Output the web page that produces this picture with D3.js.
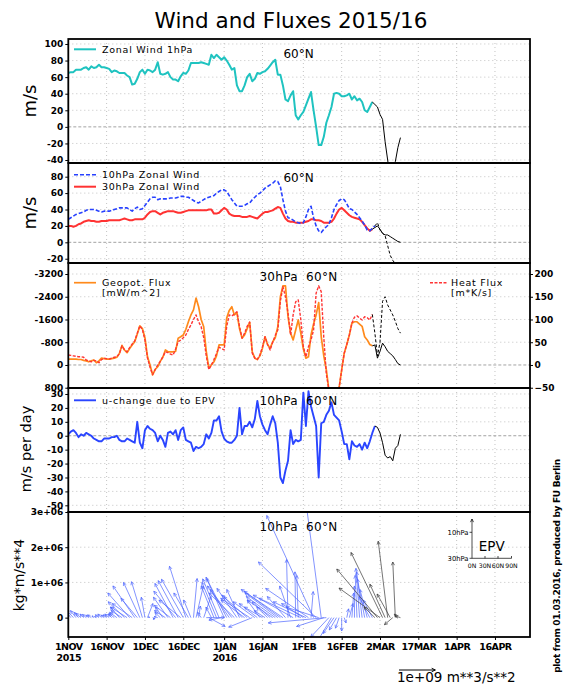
<!DOCTYPE html>
<html>
<head>
<meta charset="utf-8">
<script src="https://cdn.jsdelivr.net/npm/d3@7"></script>
<style>
  html, body { margin: 0; padding: 0; background: #fff; }
  svg { display: block; }
</style>
</head>
<body>
<div id="chart"></div>
<script>
// All daily series start on 1 Nov 2015 (index 0 = 1NOV). Forecast arrays start at their own day.
const seriesStart = '2015-11-01';

const xTickDates  = ['2015-11-01','2015-11-16','2015-12-01','2015-12-16','2016-01-01','2016-01-16',
                     '2016-02-01','2016-02-16','2016-03-02','2016-03-17','2016-04-01','2016-04-16'];
const xTickLabels = ['1NOV','16NOV','1DEC','16DEC','1JAN','16JAN','1FEB','16FEB','2MAR','17MAR','1APR','16APR'];
const xTickYears  = ['2015','','','','2016','','','','','','',''];

const ticksWind1  = [-40, -20, 0, 20, 40, 60, 80, 100];
const ticksWind2  = [-20, 0, 20, 40, 60, 80];
const ticksGeopot = [800, 0, -800, -1600, -2400, -3200];
const ticksHeat   = [-50, 0, 50, 100, 150, 200];
const ticksDu     = [-50, -40, -30, -20, -10, 0, 10, 20, 30];
const ticksEpfz   = [0, 1e6, 2e6, 3e6];
const ticksEpfzLabels = ['0', '1e+06', '2e+06', '3e+06'];

// Zonal wind 1hPa, 60N (m/s)
const wind1hPa = [
  65,66,66,69,69,69,71,72,69,73,  71,72,75,72,72,71,70,66,68,67,
  65,65,65,62,60,51,52,58,66,69,  64,69,68,66,69,78,64,63,64,66,
  60,57,57,55,61,65,64,68,77,77,  77,77,78,77,76,75,87,83,87,84,
  81,84,80,75,69,71,50,43,43,50,  60,64,55,58,65,64,66,67,70,74,
  78,81,63,63,50,33,31,38,43,14,   9,14,18,26,34,42,20,0,-22,-22,
  -12,5,14,24,40,41,40,37,37,38,  40,33,37,32,34,30,20,18,24,30
];
const wind1hPaFcStart = 119;
const wind1hPaFc = [30,27,24,15,9,-18,-40,-62,-62,-42,-25,-13];

// Zonal wind 10hPa and 30hPa, 60N (m/s)
const wind10hPa = [
  28,30,32,34,35,36,37,39,40,40,  40,39,38,37,38,38,38,39,40,41,
  42,42,42,42,40,38,41,43,40,41,  45,49,53,55,55,52,53,53,53,53,
  54,54,54,55,56,56,55,55,53,51,  49,48,50,52,54,55,56,57,60,62,
  64,64,62,57,52,48,44,44,44,45,  47,48,52,55,58,60,63,66,68,70,
  72,75,74,68,52,38,30,29,27,25,  24,23,24,31,40,44,30,20,14,12,
  16,19,22,30,40,46,51,53,52,47,  41,40,37,34,30,26,21,15,14,17,
  20
];
const wind10hPaFcStart = 120;
const wind10hPaFc = [20,24,15,11,8,-4,-16,-22,-26,-27];

const wind30hPa = [
  20,20,19,20,22,23,25,26,27,26,  26,25,25,26,26,26,27,27,27,27,
  27,28,29,28,27,27,28,28,28,28,  30,34,37,38,38,36,34,36,37,38,
  38,38,37,36,36,37,38,39,39,39,  39,39,39,39,39,40,40,35,35,36,
  39,42,40,35,33,32,32,32,31,31,  31,32,31,30,29,32,35,37,37,38,
  39,41,43,42,35,29,26,25,25,24,  24,24,24,25,26,28,28,27,27,26,
  24,24,24,25,29,35,40,42,39,36,  33,31,30,29,28,25,21,17,14,16
];
const wind30hPaFcStart = 119;
const wind30hPaFc = [16,18,20,16,11,9,9,7,5,3,1,0];

// Geopotential flux 30hPa (mW/m^2, left axis) and heat flux (m*K/s, right axis)
const geopotFlux = [
  -208,-208,-208,-208,-192,-192,-160,-144,-112,-144,  -176,-80,-144,-240,-224,-208,-208,-224,-240,-272,
  -400,-688,-528,-432,-576,-704,-816,-1088,-1376,-1280,  -960,-288,0,352,160,64,-128,-272,-528,-464,
  -464,-464,-480,-944,-992,-1056,-1248,-1520,-1760,-1936,  -2352,-2048,-1600,-1344,-480,112,0,-112,-320,-704,
  -704,-704,-1648,-1920,-2048,-1760,-1840,-1280,-944,-1056,  -1280,-1504,-464,-240,-192,-320,-592,-992,-720,-592,
  -816,-960,-1344,-2400,-2784,-2784,-1696,-1120,-880,-1232,  -1584,-1120,-560,-240,-288,-1056,-1440,-1760,-2192,-992,
  -320,176,880,1280,1440,1280,800,176,-416,-720,  -1056,-1472,-1520,-1520,-1440,-1360,-992,-880,-720,-672
];
const geopotFluxFcStart = 119;
const geopotFluxFc = [-672,-704,-240,-480,-768,-640,-480,-400,-320,-192,-48,0];

const heatFlux = [
  22,21,20,19,18,18,17,11,9,7,  10,9,5,12,15,14,13,15,17,18,
  25,42,33,29,38,46,53,70,86,78,  55,15,-5,-21,-10,0,8,18,29,27,
  24,22,35,51,55,60,66,78,88,100,  110,95,84,60,20,-10,0,12,25,39,
  36,33,85,110,108,112,117,85,59,70,  85,94,26,15,12,22,40,62,45,33,
  50,65,77,140,172,150,114,66,110,139,  143,100,40,18,40,55,77,158,174,161,
  60,-20,-55,-80,-90,-80,-50,-11,26,45,  66,92,105,108,103,99,106,104,99,111
];
const heatFluxFcStart = 119;
const heatFluxFc = [111,70,20,50,140,150,132,121,110,96,80,70];

// u-change due to EPV, 10hPa (m/s per day)
const duEpv = [
  1,3,4,2,-1,1,0,2,1,0,  -2,-3,-4,-4,-2,-2,-2,-1,-1,0,
  -3,-4,-4,-2,-3,-4,-5,10,-5,-9,  4,7,5,4,2,-4,0,-3,-8,2,
  3,1,4,-3,4,6,-3,-4,-5,-11,  -8,-9,-8,-6,1,-2,2,11,11,14,
  3,-2,-4,-5,-5,-3,0,20,1,7,  7,10,6,12,25,14,8,4,1,8,
  14,9,-5,-30,-34,-25,-18,4,-6,-3,  -4,-3,31,7,32,21,14,7,-30,9,
  10,15,18,24,15,13,11,3,-6,-6,  -17,-4,-7,-8,-6,-10,-5,-9,-4,2,
  7
];
const duEpvFcStart = 120;
const duEpvFc = [7,6,2,-5,-14,-16,-15,-18,-9,-7,1];

// EP flux vectors at 10hPa: horizontal (1e9 m**3/s**2), vertical (1e6 kg*m/s**4)
// indices 0..119 analysis (blue), 120..130 forecast (black)
const epFy = [
  -0.15,-0.15,-0.2,-0.15,-0.12,-0.15,-0.1,-0.1,-0.08,-0.1,  -0.05,-0.05,-0.1,-0.1,-0.08,-0.1,-0.12,-0.1,-0.15,-0.2,
  -0.25,-0.3,-0.45,-0.45,-0.6,-0.55,-0.6,-0.45,-0.45,-0.3,  -0.1,0.15,-0.05,0.05,-0.05,-0.1,-0.15,-0.2,-0.3,-0.4,
  -0.45,-0.5,-0.6,-0.55,-0.6,-0.6,-0.45,-0.4,-0.2,0.1,  0.2,0.05,-0.1,0.2,0.5,0.45,-0.15,-0.35,-0.4,-0.45,
  -0.35,-0.5,-0.55,-0.6,-0.6,-0.7,-0.55,-0.35,-0.5,-0.65,  -0.7,-0.8,-0.65,-0.6,-0.5,-0.35,-0.5,-0.3,-0.3,-0.5,
  -0.7,-0.8,-0.9,-1.0,-1.15,-0.5,-0.04,-0.3,-1.1,-0.02,  -0.04,-1.15,-0.6,-0.9,-1.18,0.06,-1.29,-1.59,-0.9,-0.45,
  -0.75,-1.6,-0.5,-0.4,-0.3,-0.2,-0.1,0,0.05,0.05,  0.1,0.05,0,-0.05,-0.1,-0.15,-0.2,-0.2,-0.3,-0.25,
  -0.3,-1.12,-1.13,-0.87,-0.42,-0.26,-0.36,-0.23,-0.07,-0.1,-0.15
];
const epFz = [
  0.15,0.2,0.22,0.2,0.15,0.12,0.1,0.09,0.07,0.08,  0.05,0.03,0.08,0.1,0.07,0.08,0.1,0.1,0.12,0.15,
  0.3,0.2,0.45,0.3,0.7,0.4,0.9,0.55,1.0,1.02,  0.58,0.4,0.02,-0.03,-0.05,0.03,0.15,0.3,0.2,0.58,
  0.35,0.97,0.75,1.05,0.5,1.09,1.46,0.7,0.5,1.11,  0.9,0.33,0.15,0.6,0,-0.25,0.3,0.9,1.0,1.1,
  -0.07,1.15,1.1,0.9,0.8,0.7,0.83,0.8,0.6,0.5,  0.64,0.55,-0.27,0.45,0.4,0.5,0.3,0.2,0.3,0.45,
  0.5,0.6,0.7,0.75,0.8,0.6,1.65,0.9,0.64,1.3,  1.2,0.55,0.4,0.45,0.83,0.74,2.9,1.58,0.3,3.5,
  -0.25,-0.15,-0.55,-0.7,-0.45,-0.35,-0.3,-0.38,-0.15,0.25,  0.4,0.7,0.9,1.2,1.4,1.3,1.1,0.8,0.6,0.5,
  0.3,1.38,0.84,1.85,0.95,2.17,0.67,-0.2,1.58,0.1,0.05
];
const epForecastFrom = 120;

// ---------------------------------------------------------------------------

const W = 566, H = 695;
const X0 = 68.3, X1 = 530;
const font = "'DejaVu Sans', sans-serif";

const t0 = d3.utcParse('%Y-%m-%d')(seriesStart);
const dayDate = d => d3.utcHour.offset(t0, Math.round(d * 24));
const parse = d3.utcParse('%Y-%m-%d');

const x = d3.scaleUtc().domain([dayDate(0), dayDate(180.7)]).range([X0, X1]);

const svg = d3.select('#chart').append('svg')
  .attr('width', W).attr('height', H)
  .attr('viewBox', `0 0 ${W} ${H}`)
  .style('font-family', font);

svg.append('rect').attr('width', W).attr('height', H).attr('fill', '#fff');
const defs = svg.append('defs');

// turn a value array into [day, value] points
const pts = (arr, start = 0) => arr.map((v, i) => [start + i, v]);

function makePanel(id, top, bottom, domain, ticks, opts = {}) {
  const y = d3.scaleLinear().domain(domain).range([bottom, top]);
  defs.append('clipPath').attr('id', 'clip' + id)
    .append('rect').attr('x', X0).attr('y', top).attr('width', X1 - X0).attr('height', bottom - top);

  const g = svg.append('g');
  // vertical dotted grid
  g.append('g').selectAll('line')
    .data(xTickDates.slice(1))
    .join('line')
    .attr('x1', d => x(parse(d))).attr('x2', d => x(parse(d)))
    .attr('y1', top).attr('y2', bottom)
    .attr('stroke', '#b4b4b4').attr('stroke-width', 0.8).attr('stroke-dasharray', '1,3');
  // horizontal dotted grid
  g.append('g').selectAll('line')
    .data(ticks.filter(t => t !== 0))
    .join('line')
    .attr('x1', X0).attr('x2', X1)
    .attr('y1', d => y(d)).attr('y2', d => y(d))
    .attr('stroke', '#b4b4b4').attr('stroke-width', 0.8).attr('stroke-dasharray', '1,3');
  // zero line
  if (opts.zero !== false) {
    g.append('line')
      .attr('x1', X0).attr('x2', X1).attr('y1', y(0)).attr('y2', y(0))
      .attr('stroke', '#8c8c8c').attr('stroke-width', 0.8).attr('stroke-dasharray', '3,2');
  }

  const yAxis = svg.append('g')
    .attr('transform', `translate(${X0},0)`)
    .call(d3.axisLeft(y).tickValues(ticks).tickSize(3).tickPadding(2)
      .tickFormat(opts.fmt || (d => d)));
  yAxis.select('.domain').remove();
  yAxis.selectAll('line').attr('stroke', '#000');
  yAxis.selectAll('text')
    .attr('fill', '#000').attr('font-size', 9).attr('font-weight', 'bold')
    .attr('font-family', font);

  return { y, top, bottom, clip: `url(#clip${id})`, g: svg.append('g').attr('clip-path', `url(#clip${id})`) };
}

function drawLine(p, data, color, width, dash, yScale) {
  const ys = yScale || p.y;
  p.g.append('path')
    .datum(data)
    .attr('d', d3.line().x(d => x(dayDate(d[0]))).y(d => ys(d[1])))
    .attr('fill', 'none')
    .attr('stroke', color)
    .attr('stroke-width', width)
    .attr('stroke-linejoin', 'round')
    .attr('stroke-dasharray', dash || null);
}

function legendLine(x1, x2, yy, color, width, dash) {
  svg.append('line').attr('x1', x1).attr('x2', x2).attr('y1', yy).attr('y2', yy)
    .attr('stroke', color).attr('stroke-width', width).attr('stroke-dasharray', dash || null);
}

function label(txt, xx, yy, size, opts = {}) {
  return svg.append('text')
    .attr('x', xx).attr('y', yy)
    .attr('font-size', size)
    .attr('text-anchor', opts.anchor || 'start')
    .attr('letter-spacing', opts.ls || 0)
    .attr('font-weight', opts.bold ? 'bold' : 'normal')
    .attr('fill', '#000')
    .text(txt);
}

function vlabel(txt, xx, yy, size, opts = {}) {
  return svg.append('text')
    .attr('transform', `translate(${xx},${yy}) rotate(-90)`)
    .attr('font-size', size)
    .attr('text-anchor', 'middle')
    .attr('letter-spacing', opts.ls || 0)
    .attr('font-weight', opts.bold ? 'bold' : 'normal')
    .attr('fill', '#000')
    .text(txt);
}

// ---- title
label('Wind and Fluxes 2015/16', 291, 28, 21.5, { anchor: 'middle' });

// ---- panel 1: 1hPa wind
const p1 = makePanel(1, 39, 163, [-43.6, 106], ticksWind1);
drawLine(p1, pts(wind1hPa), '#1fc3c0', 2);
drawLine(p1, pts(wind1hPaFc, wind1hPaFcStart), '#000', 1);
legendLine(74, 96, 49.3, '#1fc3c0', 2);
label('Zonal Wind 1hPa', 102, 52.8, 9.5, { ls: 0.75 });
label('60°N', 298.5, 57.5, 12, { anchor: 'middle' });
vlabel('m/s', 36, 101, 18);

// ---- panel 2: 10hPa / 30hPa wind
const p2 = makePanel(2, 163, 263, [-25.2, 96.7], ticksWind2);
drawLine(p2, pts(wind30hPa), '#ff3232', 2);
drawLine(p2, pts(wind10hPa), '#2741ff', 1.6, '4,2');
drawLine(p2, pts(wind30hPaFc, wind30hPaFcStart), '#000', 1);
drawLine(p2, pts(wind10hPaFc, wind10hPaFcStart), '#000', 1, '3,2');
legendLine(74, 96, 174.7, '#2741ff', 1.6, '4,2');
label('10hPa Zonal Wind', 102, 178.2, 9.5, { ls: 0.75 });
legendLine(74, 96, 186.7, '#ff3232', 2);
label('30hPa Zonal Wind', 102, 190.2, 9.5, { ls: 0.75 });
label('60°N', 298.5, 182, 12, { anchor: 'middle' });
vlabel('m/s', 36, 213, 18);

// ---- panel 3: fluxes
const p3 = makePanel(3, 263, 388, [810, -3587], ticksGeopot);
const yHeat = d3.scaleLinear().domain([-50.6, 224.2]).range([388, 263]);
const rAxis = svg.append('g')
  .attr('transform', `translate(${X1},0)`)
  .call(d3.axisRight(yHeat).tickValues(ticksHeat).tickSize(3).tickPadding(1.5));
rAxis.select('.domain').remove();
rAxis.selectAll('text').attr('fill', '#000').attr('font-size', 9).attr('font-weight', 'bold').attr('font-family', font);
drawLine(p3, pts(geopotFlux), '#ff8a1c', 1.7);
drawLine(p3, pts(heatFlux), '#ff3434', 1.4, '3,1.5', yHeat);
drawLine(p3, pts(geopotFluxFc, geopotFluxFcStart), '#000', 1);
drawLine(p3, pts(heatFluxFc, heatFluxFcStart), '#000', 1, '3,2', yHeat);
legendLine(74, 96, 282.7, '#ff8a1c', 1.7);
label('Geopot. Flux', 102, 285.8, 9.5, { ls: 0.75 });
label('[mW/m^2]', 102, 296.2, 9.5, { ls: 0.75 });
legendLine(430, 448, 282.7, '#ff3434', 1.4, '3,1.5');
label('Heat Flux', 451, 285.8, 9.5, { ls: 0.75 });
label('[m*K/s]', 451, 296.2, 9.5, { ls: 0.75 });
label('30hPa  60°N', 298.5, 281.3, 12, { anchor: 'middle', ls: 0.3 }).attr('xml:space', 'preserve');

// ---- panel 4: u change due to EPV
const p4 = makePanel(4, 388, 512, [-54.8, 34.3], ticksDu);
drawLine(p4, pts(duEpv), '#2a45ff', 1.9);
drawLine(p4, pts(duEpvFc, duEpvFcStart), '#000', 1);
legendLine(74, 96, 400.3, '#2a45ff', 1.9);
label('u-change due to EPV', 102, 403.8, 9.5, { ls: 0.75 });
label('10hPa  60°N', 298.5, 405.3, 12, { anchor: 'middle', ls: 0.3 }).attr('xml:space', 'preserve');
vlabel('m/s per day', 31, 449, 14.5);

// ---- panel 5: EP flux vectors
const p5 = makePanel(5, 512, 637, [-0.55e6, 3.0e6], ticksEpfz,
  { zero: false, fmt: (d, i) => ticksEpfzLabels[i] });
const fyPx = d3.scaleLinear().domain([0, 1e9]).range([0, 36.3]);

function arrowPath(x1, y1, x2, y2, head) {
  const dx = x2 - x1, dy = y2 - y1;
  const len = Math.hypot(dx, dy);
  let d = `M${x1},${y1}L${x2},${y2}`;
  if (len > 1.5) {
    const a = Math.atan2(dy, dx), s = 0.45;
    const h = Math.min(head, len * 0.6);
    d += `M${x2 - h * Math.cos(a - s)},${y2 - h * Math.sin(a - s)}L${x2},${y2}` +
         `L${x2 - h * Math.cos(a + s)},${y2 - h * Math.sin(a + s)}`;
  }
  return d;
}

const epData = epFy.map((fy, i) => ({ day: i, fy: fy * 1e9, fz: epFz[i] * 1e6, fc: i >= epForecastFrom }));
p5.g.selectAll('path.ep')
  .data(epData)
  .join('path')
  .attr('class', 'ep')
  .attr('d', d => {
    const bx = x(dayDate(d.day)), by = p5.y(0);
    return arrowPath(bx, by, bx + fyPx(d.fy), p5.y(d.fz), 3.6);
  })
  .attr('fill', 'none')
  .attr('stroke', d => d.fc ? '#3a3a3a' : '#4d66ff')
  .attr('stroke-width', 0.7);

label('10hPa  60°N', 298.5, 530.7, 12, { anchor: 'middle', ls: 0.3 }).attr('xml:space', 'preserve');
vlabel('kg*m/s**4', 24, 575, 14);

// EPV inset legend
const inset = svg.append('g').attr('fill', 'none').attr('stroke', '#000').attr('stroke-width', 0.7);
inset.append('path').attr('d', arrowPath(472, 558.3, 472, 519, 3.5));
inset.append('path').attr('d', 'M472,558.3L511.5,558.3');
[532.3, 558.3].forEach(v => inset.append('path').attr('d', `M469.5,${v}L472,${v}`));
[485, 498, 511.5].forEach(v => inset.append('path').attr('d', `M${v},558.3L${v},556`));
label('10hPa', 468.5, 534.5, 6.8, { anchor: 'end' });
label('30hPa', 468.5, 560.5, 6.8, { anchor: 'end' });
label('0N', 472, 567.8, 6.2, { anchor: 'middle' });
label('30N', 485, 567.8, 6.2, { anchor: 'middle' });
label('60N', 498, 567.8, 6.2, { anchor: 'middle' });
label('90N', 511.5, 567.8, 6.2, { anchor: 'middle' });
label('EPV', 491.8, 550.7, 13.5, { anchor: 'middle' });

// ---- x axis (bottom of panel 5)
const xAxis = svg.append('g')
  .attr('transform', `translate(0,637)`)
  .call(d3.axisBottom(x).tickValues(xTickDates.map(parse)).tickSize(3).tickPadding(3)
    .tickFormat((d, i) => xTickLabels[i]));
xAxis.select('.domain').remove();
xAxis.selectAll('text').attr('fill', '#000').attr('font-size', 9.5).attr('font-weight', 'bold')
  .attr('letter-spacing', -0.5).attr('font-family', font);
xAxis.selectAll('.tick').each(function (d, i) {
  if (!xTickYears[i]) return;
  d3.select(this).append('text')
    .attr('y', 17).attr('dy', '0.71em')
    .attr('text-anchor', 'middle')
    .attr('fill', '#000').attr('font-size', 9.5).attr('font-weight', 'bold')
    .attr('letter-spacing', -0.5).attr('font-family', font)
    .text(xTickYears[i]);
});

// reference vector
svg.append('path').attr('d', arrowPath(399, 670, 399 + fyPx(1e9), 670, 4))
  .attr('fill', 'none').attr('stroke', '#000').attr('stroke-width', 1);
label('1e+09 m**3/s**2', 397, 682, 13.5);

// ---- panel frames
[[39, 163], [163, 263], [263, 388], [388, 512], [512, 637]].forEach(([a, b]) => {
  svg.append('rect').attr('x', X0).attr('y', a).attr('width', X1 - X0).attr('height', b - a)
    .attr('fill', 'none').attr('stroke', '#000').attr('stroke-width', 1.8);
});

// ---- credit
vlabel('plot from 01.03.2016, produced by FU Berlin', 560, 566, 9, { bold: true, ls: -0.3 });
</script>
</body>
</html>
